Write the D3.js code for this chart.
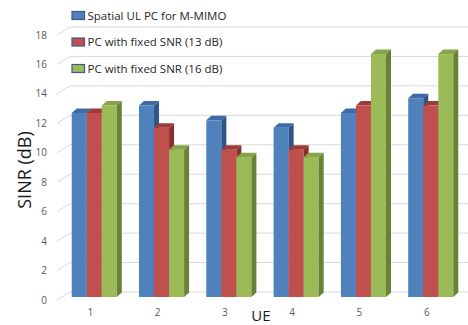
<!DOCTYPE html>
<html>
<head>
<meta charset="utf-8">
<script src="https://cdn.jsdelivr.net/npm/d3@7"></script>
<style>
  html, body { margin: 0; padding: 0; background: #fff; }
  svg { display: block; }
  text { font-family: "Open Sans", "DejaVu Sans", sans-serif; }
</style>
</head>
<body>
<div id="chart"></div>
<script>
// UE indices along the x axis
const categories = ["1", "2", "3", "4", "5", "6"];
// Series names shown in the legend
const seriesNames = [
  "Spatial UL PC for M-MIMO",
  "PC with fixed SNR (13 dB)",
  "PC with fixed SNR (16 dB)"
];
// SINR (dB) per UE for each power-control scheme
const spatialUL = [12.5, 13, 12, 11.5, 12.5, 13.5];
const fixed13 = [12.5, 11.5, 10, 10, 13, 13];
const fixed16 = [13, 10, 9.5, 9.5, 16.5, 16.5];
// Y axis tick values
const yTicks = [0, 2, 4, 6, 8, 10, 12, 14, 16, 18];

const seriesValues = [spatialUL, fixed13, fixed16];

const W = 468, H = 325;
const DX = 5, DY = 4.5;           // bar depth offset (oblique projection)
const WALL_DX = 13, WALL_DY = 8;  // back-wall offset for the gridlines

const faces = [
  { front: "#4F81BD", top: "#3D6BA5", side: "#2F5587", key: "#4F81BD" },
  { front: "#C0504D", top: "#9E3B38", side: "#8A2F2C", key: "#C0504D" },
  { front: "#9BBB59", top: "#86A449", side: "#6A8237", key: "#9BBB59" }
];

const svg = d3.select("#chart").append("svg")
  .attr("width", W).attr("height", H);

// Front plane of the bars
const y = d3.scaleLinear().domain([0, 18]).range([297, 32]);

const x = d3.scaleBand()
  .domain(categories)
  .range([60.6, 464.4])
  .paddingInner(0.33)
  .paddingOuter(0.165);

const xs = d3.scaleBand()
  .domain(d3.range(seriesNames.length))
  .range([0, x.bandwidth()]);

// Gridlines: short diagonal from the axis to the back wall, then across the wall
const grid = svg.append("g").attr("stroke", "#d9d9d9").attr("stroke-width", 1).attr("fill", "none");
yTicks.forEach(v => {
  const yf = y(v) + 3, yb = y(v) - 5;
  grid.append("path")
    .attr("d", `M${57},${yf}L${57 + WALL_DX},${yb}L${W},${yb}`);
});

// Tick labels
svg.append("g").selectAll("text").data(yTicks).join("text")
  .attr("x", 47)
  .attr("y", d => y(d) + 3)
  .attr("dy", "0.35em")
  .attr("text-anchor", "end")
  .attr("font-size", 10)
  .attr("fill", "#595959")
  .text(d => d);

// Bars, drawn left to right so nearer faces overlap farther ones
const bars = svg.append("g");
categories.forEach((c, ci) => {
  seriesValues.forEach((vals, si) => {
    const v = vals[ci];
    const x0 = x(c) + xs(si), w = xs.bandwidth();
    const yt = y(v), yb = y(0);
    const f = faces[si];
    const g = bars.append("g");
    g.append("rect")
      .attr("x", x0).attr("y", yt)
      .attr("width", w).attr("height", yb - yt)
      .attr("fill", f.front);
    g.append("path")
      .attr("d", `M${x0},${yt}L${x0 + DX},${yt - DY}L${x0 + w + DX},${yt - DY}L${x0 + w},${yt}Z`)
      .attr("fill", f.top);
    g.append("path")
      .attr("d", `M${x0 + w},${yt}L${x0 + w + DX},${yt - DY}L${x0 + w + DX},${yb - DY}L${x0 + w},${yb}Z`)
      .attr("fill", f.side);
  });
});

// Category labels
svg.append("g").selectAll("text").data(categories).join("text")
  .attr("x", d => x(d) + x.bandwidth() / 2 - 4)
  .attr("y", 312)
  .attr("dy", "0.35em")
  .attr("text-anchor", "middle")
  .attr("font-size", 10)
  .attr("fill", "#595959")
  .text(d => d);

// Axis titles
svg.append("text")
  .attr("x", 261).attr("y", 321)
  .attr("text-anchor", "middle")
  .attr("font-size", 15)
  .attr("fill", "#1a1a1a")
  .text("UE");

svg.append("text")
  .attr("transform", "translate(31,170) rotate(-90)")
  .attr("text-anchor", "middle")
  .attr("font-size", 18)
  .attr("fill", "#1a1a1a")
  .text("SINR (dB)");

// Legend
const legend = svg.append("g");
seriesNames.forEach((name, i) => {
  const ly = 15.5 + i * 26.5;
  legend.append("rect")
    .attr("x", 72).attr("y", ly - 4)
    .attr("width", 12.5).attr("height", 8)
    .attr("fill", faces[i].key)
    .attr("stroke", "#3b5a86")
    .attr("stroke-width", 1.2);
  legend.append("text")
    .attr("x", 87.5).attr("y", ly)
    .attr("dy", "0.35em")
    .attr("font-size", 11.5)
    .attr("fill", "#262626")
    .text(name);
});
</script>
</body>
</html>
